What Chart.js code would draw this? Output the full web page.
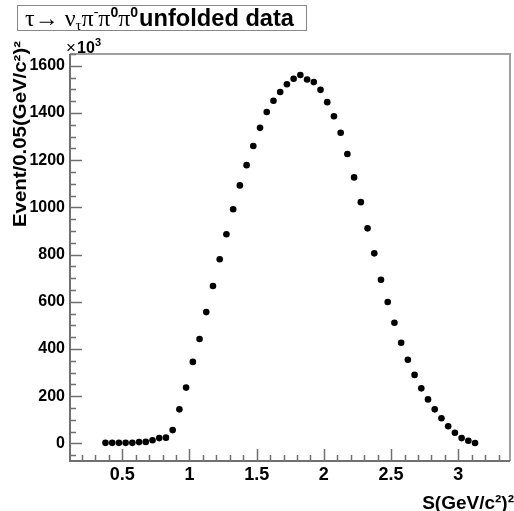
<!DOCTYPE html>
<html>
<head>
<script src="https://cdn.jsdelivr.net/npm/chart.js@4/dist/chart.umd.min.js"></script>
<style>
  body { margin: 0; background: #fff; }
  canvas { display: block; }
</style>
</head>
<body>
<canvas id="c" width="514" height="511"></canvas>
<script>
// bin centres S (GeV/c^2)^2, bin width 0.05
const sValues = [0.375, 0.425, 0.475, 0.525, 0.575, 0.625, 0.675, 0.725, 0.775, 0.825,
                 0.875, 0.925, 0.975, 1.025, 1.075, 1.125, 1.175, 1.225, 1.275, 1.325,
                 1.375, 1.425, 1.475, 1.525, 1.575, 1.625, 1.675, 1.725, 1.775, 1.825,
                 1.875, 1.925, 1.975, 2.025, 2.075, 2.125, 2.175, 2.225, 2.275, 2.325,
                 2.375, 2.425, 2.475, 2.525, 2.575, 2.625, 2.675, 2.725, 2.775, 2.825,
                 2.875, 2.925, 2.975, 3.025, 3.075, 3.125];
// events per bin, x10^3
const events = [2, 2, 2, 2, 2, 5, 6, 13, 22, 24,
                56, 144, 236, 345, 442, 556, 667, 780, 886, 992,
                1093, 1179, 1260, 1337, 1404, 1452, 1489, 1522, 1545, 1561,
                1542, 1531, 1498, 1446, 1386, 1316, 1226, 1127, 1022, 911,
                805, 693, 599, 511, 426, 354, 290, 233, 186, 144,
                106, 72, 45, 22, 11, 1];
const xTicks = [0.5, 1, 1.5, 2, 2.5, 3];
const yTicks = [0, 200, 400, 600, 800, 1000, 1200, 1400, 1600];

const SANS = '"Liberation Sans", Arial, sans-serif';
const SERIF = '"Liberation Serif", "Times New Roman", serif';

// ROOT style frame: ticks inside, titles, x10^3 and the title box
const rootFrame = {
  id: 'rootFrame',
  beforeDatasetsDraw(chart) {
    const ctx = chart.ctx;
    const a = chart.chartArea;
    const xs = chart.scales.x, ys = chart.scales.y;
    ctx.save();
    // frame top/right
    ctx.strokeStyle = '#a0a0a0';
    ctx.lineWidth = 2;
    ctx.beginPath();
    ctx.moveTo(a.left, a.top); ctx.lineTo(a.right, a.top); ctx.lineTo(a.right, a.bottom);
    ctx.stroke();
    // axes
    ctx.strokeStyle = '#707070';
    ctx.beginPath();
    ctx.moveTo(a.left, a.top); ctx.lineTo(a.left, a.bottom); ctx.lineTo(a.right, a.bottom);
    ctx.stroke();
    // ticks
    ctx.lineWidth = 1.5;
    ctx.strokeStyle = '#707070';
    ctx.beginPath();
    for (let i = 1; i <= 34; i++) {
      const v = i / 10;
      if (v < xs.min || v > xs.max) continue;
      const px = Math.round(xs.getPixelForValue(v)) + 0.5;
      const len = (i % 5 === 0) ? 12 : 6;
      ctx.moveTo(px, a.bottom); ctx.lineTo(px, a.bottom - len);
    }
    for (let v = -50; v <= 1650; v += 50) {
      if (v < ys.min || v > ys.max) continue;
      const py = Math.round(ys.getPixelForValue(v)) + 0.5;
      const len = (v % 200 === 0) ? 12 : 6;
      ctx.moveTo(a.left, py); ctx.lineTo(a.left + len, py);
    }
    ctx.stroke();

    ctx.fillStyle = '#000';
    // x axis title
    ctx.textBaseline = 'alphabetic';
    ctx.textAlign = 'right';
    ctx.font = 'bold 19px ' + SANS;
    ctx.fillText('S(GeV/c\u00b2)\u00b2', 514, 509);

    // y axis title
    ctx.save();
    ctx.translate(26, 227);
    ctx.rotate(-Math.PI / 2);
    ctx.textAlign = 'left';
    ctx.font = 'bold 18px ' + SANS;
    const yt = 'Event/0.05(GeV/c\u00b2)\u00b2';
    const w = ctx.measureText(yt).width;
    ctx.scale(186 / w, 1);
    ctx.fillText(yt, 0, 0);
    ctx.restore();

    // x10^3
    ctx.textAlign = 'left';
    ctx.font = '17px ' + SANS;
    ctx.fillText('\u00d7', 66, 53);
    ctx.font = 'bold 16px ' + SANS;
    ctx.fillText('10', 77, 53);
    ctx.font = 'bold 11px ' + SANS;
    ctx.fillText('3', 95, 46);

    // title box
    ctx.fillStyle = '#fff';
    ctx.fillRect(17, 5, 289, 25);
    ctx.strokeStyle = '#888';
    ctx.lineWidth = 1;
    ctx.strokeRect(17.5, 5.5, 289, 25);
    ctx.fillStyle = '#000';
    let x = 25;
    const base = 26;
    const put = (txt, font, dy) => {
      ctx.font = font;
      ctx.fillText(txt, x, base + dy);
      x += ctx.measureText(txt).width;
    };
    put('\u03c4\u2192 \u03bd', '24px ' + SERIF, 0);
    put('\u03c4', '15px ' + SERIF, 4);
    put('\u03c0', '24px ' + SERIF, 0);
    put('-', '14px ' + SERIF, -10);
    put('\u03c0', '24px ' + SERIF, 0);
    put('0', 'bold 14px ' + SANS, -9);
    put('\u03c0', '24px ' + SERIF, 0);
    put('0', 'bold 14px ' + SANS, -9);
    x += 1;
    ctx.font = 'bold 23px ' + SANS;
    const ut = 'unfolded data';
    ctx.save();
    ctx.translate(x, base);
    ctx.scale((294 - x) / ctx.measureText(ut).width, 1);
    ctx.fillText(ut, 0, 0);
    ctx.restore();
    ctx.restore();
  }
};

new Chart(document.getElementById('c'), {
  type: 'scatter',
  data: {
    datasets: [{
      data: sValues.map((s, i) => ({ x: s, y: events[i] })),
      pointRadius: 3.3,
      pointBackgroundColor: '#000',
      pointBorderWidth: 0,
      showLine: false
    }]
  },
  options: {
    responsive: false,
    animation: false,
    layout: { padding: { left: 0, top: 54, right: 2, bottom: 0 } },
    plugins: { legend: { display: false }, tooltip: { enabled: false } },
    scales: {
      x: {
        type: 'linear',
        min: 0.111,
        max: 3.385,
        grid: { display: false, drawTicks: false },
        border: { display: false },
        afterBuildTicks: s => { s.ticks = xTicks.map(v => ({ value: v })); },
        afterFit: s => { s.height = 50; },
        ticks: {
          autoSkip: false,
          maxRotation: 0,
          padding: 3,
          color: '#000',
          font: { family: SANS, weight: 'bold', size: 18 },
          callback: v => String(v)
        }
      },
      y: {
        min: -75,
        max: 1650,
        grid: { display: false, drawTicks: false },
        border: { display: false },
        afterBuildTicks: s => { s.ticks = yTicks.map(v => ({ value: v })); },
        afterFit: s => { s.width = 70; },
        ticks: {
          autoSkip: false,
          padding: 5,
          color: '#000',
          font: { family: SANS, weight: 'bold', size: 16 },
          callback: v => String(v)
        }
      }
    }
  },
  plugins: [rootFrame]
});
</script>
</body>
</html>
